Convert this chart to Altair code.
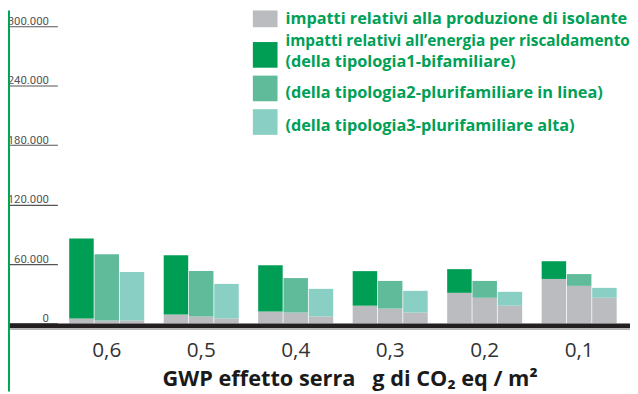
import altair as alt
import pandas as pd

# ---- data -------------------------------------------------------------
categorie = ["0,6", "0,5", "0,4", "0,3", "0,2", "0,1"]
tipologie = ["tipologia1", "tipologia2", "tipologia3"]

# total height of each bar (isolante + energia)
totale_tip1 = [85800, 68800, 58800, 52800, 54800, 62800]
totale_tip2 = [69800, 52800, 45800, 42900, 42900, 49800]
totale_tip3 = [51800, 39900, 34900, 32900, 31900, 35900]
# grey part: impacts of insulation production
isolante_tip1 = [5000, 9000, 12000, 17900, 30900, 44900]
isolante_tip2 = [3000, 7000, 11000, 15000, 25900, 37900]
isolante_tip3 = [3000, 5000, 7000, 11000, 17900, 25900]

y_ticks = [0, 60000, 120000, 180000, 240000, 300000]

serie = ["isolante", "tipologia1", "tipologia2", "tipologia3"]
colori = ["#bbbcbf", "#009e55", "#60bb9b", "#89cfc3"]

legend_lines = [
    "impatti relativi alla produzione di isolante",
    "impatti relativi all\u2019energia per riscaldamento",
    "(della tipologia1-bifamiliare)",
    "(della tipologia2-plurifamiliare in linea)",
    "(della tipologia3-plurifamiliare alta)",
]

x_title = "GWP effetto serra\u00a0\u00a0\u00a0g di CO\u2082 eq / m\u00b2"

# ---- table --------------------------------------------------------------
totali = [totale_tip1, totale_tip2, totale_tip3]
isolanti = [isolante_tip1, isolante_tip2, isolante_tip3]
rows = []
for i, c in enumerate(categorie):
    for j, t in enumerate(tipologie):
        iso = isolanti[j][i]
        tot = totali[j][i]
        rows.append({"cat": c, "tip": t, "serie": "isolante", "y0": 0, "y1": iso})
        rows.append({"cat": c, "tip": t, "serie": t, "y0": iso, "y1": tot})
df = pd.DataFrame(rows)

W, H = 630, 386
GREEN_TXT = "#00a056"
dummy = alt.Data(values=[{}])

yscale = alt.Scale(domain=[-68771, 315947], nice=False, zero=False)

bars = alt.Chart(df).mark_bar().encode(
    x=alt.X(
        "cat:N",
        sort=categorie,
        scale=alt.Scale(range=[62, 616.5], paddingInner=0.206, paddingOuter=0),
        axis=alt.Axis(
            orient="bottom", offset=-56, domain=False, ticks=False,
            labelAngle=0, labelPadding=3,
            labelFont="Open Sans", labelFontSize=21,
            labelColor="#333333",
            title=x_title, titleFont="Open Sans", titleFontWeight="bold",
            titleFontSize=22, titleColor="#1a1a1a",
            titleX=346, titleY=50, titleAlign="center",
            titleBaseline="alphabetic",
        ),
    ),
    xOffset=alt.XOffset("tip:N", sort=tipologie,
                        scale=alt.Scale(paddingInner=0.03)),
    y=alt.Y(
        "y0:Q", scale=yscale,
        axis=alt.Axis(
            orient="left", values=y_ticks, offset=-50, tickSize=50,
            tickColor="#555555", tickWidth=1.2, domain=False, grid=False,
            labelAlign="right", labelPadding=-41, labelBaseline="alphabetic",
            labelOffset=-2, labelFont="Roboto", labelFontSize=11.5,
            labelColor="#555555",
            labelExpr="replace(format(datum.value, ','), ',', '.')",
            title=None,
        ),
    ),
    y2="y1:Q",
    color=alt.Color("serie:N", scale=alt.Scale(domain=serie, range=colori),
                    legend=None),
)

baseline = alt.Chart(dummy).mark_rule(color="#231f20", strokeWidth=5,
                                      yOffset=2.5).encode(
    y=alt.datum(0), x=alt.value(0), x2=alt.value(W)
)
baseline2 = alt.Chart(dummy).mark_rule(color="#b5b5b5", strokeWidth=1.2,
                                       yOffset=6).encode(
    y=alt.datum(0), x=alt.value(0), x2=alt.value(W)
)
green_line = alt.Chart(dummy).mark_rule(color="#00a551", strokeWidth=3).encode(
    x=alt.value(0.5), y=alt.value(0), y2=alt.value(H)
)

# ---- manual legend -------------------------------------------------------
rect_y = [(0, 17), (32, 58), (66, 92), (100, 126)]
legend_layers = []
for (y0, y1), col in zip(rect_y, colori):
    legend_layers.append(
        alt.Chart(dummy).mark_rect(color=col).encode(
            x=alt.value(248), x2=alt.value(273),
            y=alt.value(y0), y2=alt.value(y1),
        )
    )
text_y = [14, 36, 57, 89, 122]
text_size = [16.5, 15.6, 16.5, 16.5, 16.5]
for ty, fs, lab in zip(text_y, text_size, legend_lines):
    legend_layers.append(
        alt.Chart(dummy).mark_text(
            align="left", baseline="alphabetic", font="Open Sans",
            fontWeight="bold", fontSize=fs, color=GREEN_TXT,
        ).encode(x=alt.value(281), y=alt.value(ty), text=alt.value(lab))
    )

chart = alt.layer(
    bars, baseline2, baseline, green_line, *legend_layers
).properties(
    width=W, height=H, padding=0,
    autosize=alt.AutoSizeParams(type="none"),
).configure_view(stroke=None)

chart.save("out.html", embed_options={"renderer": "svg", "actions": False})
